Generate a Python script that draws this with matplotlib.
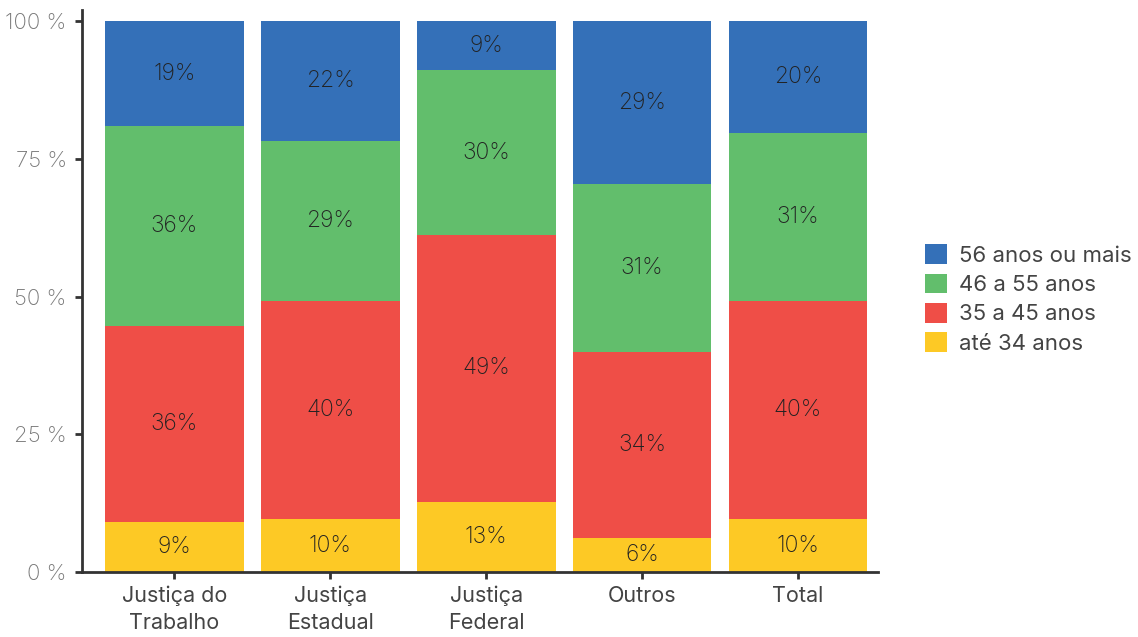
import numpy as np
import matplotlib
matplotlib.use('Agg')
import matplotlib.pyplot as plt

categories = ['Justiça do\nTrabalho', 'Justiça\nEstadual', 'Justiça\nFederal', 'Outros', 'Total']
series = ['até 34 anos', '35 a 45 anos', '46 a 55 anos', '56 anos ou mais']
ate34 = [9.1, 9.6, 12.7, 6.2, 9.6]
de35a45 = [35.5, 39.6, 48.5, 33.7, 39.6]
de46a55 = [36.4, 29.0, 29.9, 30.5, 30.5]
mais56 = [19.0, 21.8, 8.9, 29.6, 20.3]
labels = [['9%', '10%', '13%', '6%', '10%'],
          ['36%', '40%', '49%', '34%', '40%'],
          ['36%', '29%', '30%', '31%', '31%'],
          ['19%', '22%', '9%', '29%', '20%']]
colors = ['#fdc925', '#ef4e47', '#62be6c', '#3470b8']

plt.rcParams['font.family'] = ['Inter', 'DejaVu Sans']

fig = plt.figure(figsize=(11.38, 6.37), dpi=100)
ax = fig.add_axes([0.072, 0.102, 0.6995, 0.882])

x = np.arange(len(categories))
bottom = np.zeros(len(categories))
handles = []
for vals, col, name, labs in zip([ate34, de35a45, de46a55, mais56], colors, series, labels):
	vals = np.array(vals)
	b = ax.bar(x, vals, 0.89, bottom=bottom, color=col, label=name)
	handles.append(b)
	for xi, bi, v, t in zip(x, bottom, vals, labs):
		ax.text(xi, bi + v / 2, t, ha='center', va='center', fontsize=16.5,
				fontweight=200, color='#222222')
	bottom += vals

ax.set_xlim(-0.593, 4.513)
ax.set_ylim(0, 102)
ax.set_yticks([0, 25, 50, 75, 100])
ax.set_yticklabels(['0 %', '25 %', '50 %', '75 %', '100 %'], fontsize=16,
				   fontweight=200, color='#777777')
ax.set_xticks(x)
ax.set_xticklabels(categories, fontsize=15.5, color='#444444', linespacing=1.4)
for s in ['top', 'right']:
	ax.spines[s].set_visible(False)
for s in ['left', 'bottom']:
	ax.spines[s].set_linewidth(2)
	ax.spines[s].set_color('#333333')
ax.tick_params(axis='both', width=2, length=5, color='#333333')
ax.tick_params(axis='x', pad=5)
ax.tick_params(axis='y', pad=6)

leg = ax.legend(handles[::-1], series[::-1], loc='center left', bbox_to_anchor=(1.059, 0.486),
				frameon=False, fontsize=16, handlelength=1.0, handleheight=1.0,
				handletextpad=0.55, labelspacing=0.35, labelcolor='#444444',
				borderpad=0, borderaxespad=0)

plt.savefig('out.png', dpi=100)
